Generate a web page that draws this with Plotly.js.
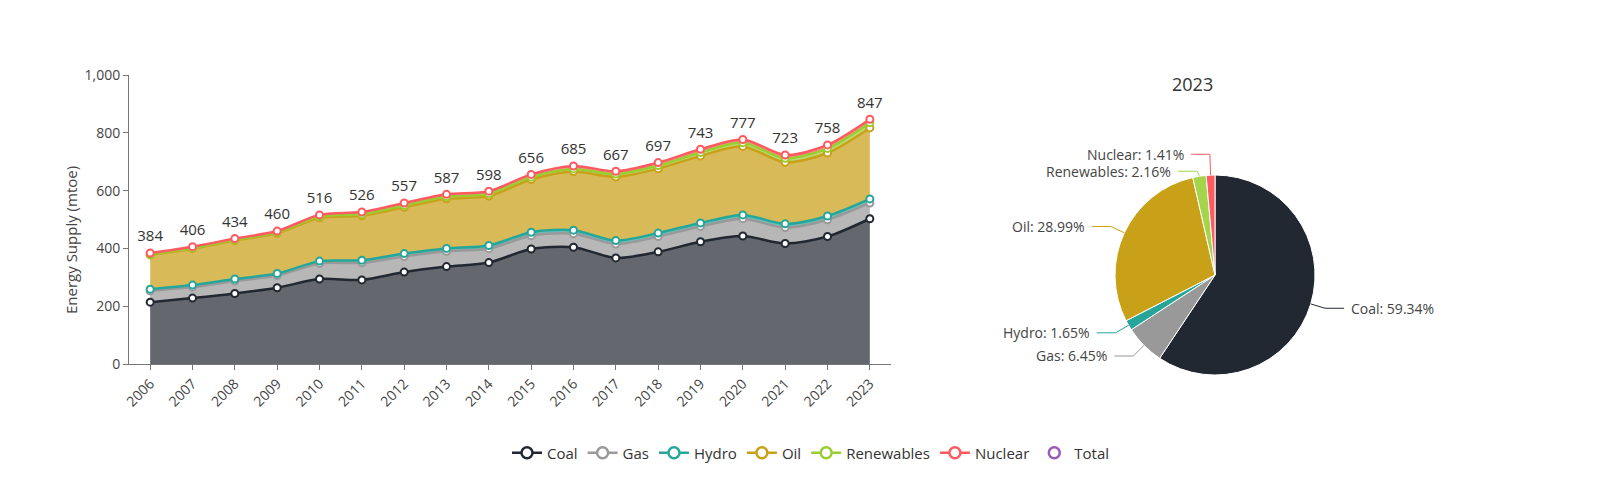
<!DOCTYPE html>
<html>
<head>
<meta charset="utf-8">
<script src="https://cdn.plot.ly/plotly-3.0.1.min.js"></script>
<style>html,body{margin:0;padding:0;background:#fff;} #chart{width:1620px;height:500px;}</style>
</head>
<body>
<div id="chart"></div>
<script>
const years = ['2006','2007','2008','2009','2010','2011','2012','2013','2014','2015','2016','2017','2018','2019','2020','2021','2022','2023'];
const coal = [214,228,244,264,294,291,318,337,351,398,404,367,388,423,443,417,441,502.6];
const gas = [39,38,43,42,54,59,54,53,48,46,47,48,53,53,60,55,58,54.6];
const hydro = [6,7,7,7,8,9,10,10,11,12,12,12,12,12,13,13,13,14];
const oil = [118.5,126,133,139,150,154,160.5,171.5,171,182.5,203,220.2,223,232,237,213,218,245.6];
const renewables = [2,2.5,3,3.5,4,5,6,7,8,8,9,10,11,12,13,14,16,18.3];
const nuclear = [4.5,4.5,4,4.5,6,8,8.5,8.5,9,9.5,10,9.8,10,11,11,11,12,11.9];
const total = [384,406,434,460,516,526,557,587,598,656,685,667,697,743,777,723,758,847];
const pieYear = '2023';
const pieLabels = ['Coal','Gas','Hydro','Oil','Renewables','Nuclear'];
const pieShares = [59.34,6.45,1.65,28.99,2.16,1.41];

const FONT = 'Open Sans, sans-serif';
const W = 1620, H = 500;
const series = [
  {name:'Coal', y:coal, color:'#222831', fill:'rgba(34,40,49,0.7)'},
  {name:'Gas', y:gas, color:'#999999', fill:'rgba(153,153,153,0.7)'},
  {name:'Hydro', y:hydro, color:'#26a69a', fill:'rgba(38,166,154,0.7)'},
  {name:'Oil', y:oil, color:'#c9a118', fill:'rgba(201,161,24,0.72)'},
  {name:'Renewables', y:renewables, color:'#9acd32', fill:'rgba(154,205,50,0.7)'},
  {name:'Nuclear', y:nuclear, color:'#ff5a5f', fill:'rgba(255,90,95,0.7)'}
];
const pieColors = ['#222831','#999999','#26a69a','#c9a118','#a3d44c','#ff5a5f'];

const traces = [];
series.forEach((s, i) => {
  traces.push({
    type:'scatter', mode:'lines+markers', name:s.name, x:years, y:s.y,
    stackgroup:'one', fillcolor:s.fill, legendgroup:s.name, showlegend:false,
    line:{color:s.color, width:2.5, shape:'spline', smoothing:0.8},
    marker:{symbol:'circle', size:7, color:'#ffffff', line:{color:s.color, width:2}},
    cliponaxis:false
  });
});
// total labels (transparent markers give the text its offset)
traces.push({
  type:'scatter', mode:'markers+text', name:'Total', x:years, y:total,
  text: total.map(v => String(v)), textposition:'top center',
  textfont:{family:FONT, size:15, color:'#333'},
  marker:{size:11, color:'rgba(0,0,0,0)'},
  legendgroup:'Total', showlegend:false, hoverinfo:'skip', cliponaxis:false
});
// legend entries (line + hollow marker, no fill swatch)
series.forEach((s, i) => {
  traces.push({
    type:'scatter', mode:'lines+markers', name:s.name, x:[null], y:[null],
    legendgroup:s.name, legendrank:i + 1,
    line:{color:s.color, width:2.5},
    marker:{symbol:'circle', size:11, color:'#ffffff', line:{color:s.color, width:2.5}}
  });
});
traces.push({
  type:'scatter', mode:'markers', name:'Total', x:[null], y:[null],
  legendgroup:'Total', legendrank:100,
  marker:{symbol:'circle', size:11, color:'#ffffff', line:{color:'#9b59b6', width:2.5}}
});

// pie geometry (pixels)
const pcx = 1215, pcy = 275, pr = 100;
traces.push({
  type:'pie', labels:pieLabels, values:pieShares, sort:false, direction:'clockwise', rotation:0,
  marker:{colors:pieColors, line:{color:'#ffffff', width:1}},
  textinfo:'none',
  domain:{x:[(pcx-pr)/W, (pcx+pr)/W], y:[(H-pcy-pr)/H, (H-pcy+pr)/H]},
  showlegend:false, hoverinfo:'label+percent'
});

// pie labels with leader lines
const sum = pieShares.reduce((a,b)=>a+b,0);
let cum = 0;
const lab = pieShares.map((v, i) => {
  const mid = (cum + v/2) / sum * 2*Math.PI; cum += v;
  const dx = Math.sin(mid), dy = -Math.cos(mid);
  return {i, dx, dy, ex:pcx+pr*dx, ey:pcy+pr*dy, bx:pcx+(pr+15)*dx, by:pcy+(pr+15)*dy, right:dx>=0};
});
[true,false].forEach(side => {
  const grp = lab.filter(l => l.right===side).sort((a,b)=>a.by-b.by);
  for (let k=1;k<grp.length;k++){
    const gap = grp[k].by - grp[k-1].by;
    if (gap < 17){ const d=(17-gap)/2; grp[k-1].by -= d - 2; grp[k].by += d + 2; }
  }
});
const shapes = [{type:'line', xref:'x', yref:'paper', x0:years[years.length-1], x1:years[years.length-1],
    y0:136/H, y1:425/H, line:{color:'#aaaaaa', width:1, dash:'dash'}}];
const annotations = [
  {text:pieYear, xref:'paper', yref:'paper', x:pcx/W, y:(H-84)/H, yanchor:'middle',
    showarrow:false, font:{family:FONT, size:18, color:'#333'}},
  {text:'Energy Supply (mtoe)', xref:'paper', yref:'paper', x:71/W, y:(H-240)/H, textangle:-90,
    xanchor:'center', yanchor:'middle', showarrow:false, font:{family:FONT, size:15, color:'#444'}}
];
lab.forEach(l => {
  const sgn = l.right ? 1 : -1;
  const hx = l.bx + sgn*19;
  const px = (x)=>x/W, py=(y)=>(H-y)/H;
  shapes.push({type:'path', xref:'paper', yref:'paper',
    path:`M ${px(l.ex)} ${py(l.ey)} L ${px(l.bx)} ${py(l.by)} L ${px(hx)} ${py(l.by)}`,
    line:{color:pieColors[l.i], width:1}});
  annotations.push({text:`${pieLabels[l.i]}: ${pieShares[l.i].toFixed(2)}%`, xref:'paper', yref:'paper',
    x:px(hx + sgn*5), y:py(l.by), xanchor:l.right?'left':'right', yanchor:'middle', showarrow:false,
    font:{family:FONT, size:14, color:'#444'}});
});

const layout = {
  width:W, height:H,
  margin:{l:0, r:0, t:0, b:0},
  paper_bgcolor:'#ffffff', plot_bgcolor:'#ffffff',
  font:{family:FONT, color:'#444', size:14},
  xaxis:{
    domain:[129/W, 891/W], type:'category', range:[-0.5, 17.5],
    tickangle:-45, showgrid:false, showline:true, linecolor:'#777', linewidth:1,
    ticks:'outside', ticklen:5, tickcolor:'#777', tickfont:{family:FONT, size:14, color:'#444'}
  },
  yaxis:{
    domain:[136/H, 425/H], range:[0, 1000], tickformat:',d', dtick:200,
    showgrid:false, showline:true, linecolor:'#777', linewidth:1, zeroline:false,
    ticks:'outside', ticklen:5, tickcolor:'#777', tickfont:{family:FONT, size:14, color:'#444'}
  },
  shapes, annotations,
  legend:{orientation:'h', x:811/W, xanchor:'center', y:47/H, yanchor:'middle',
    font:{family:FONT, size:15, color:'#333'}, itemwidth:30, traceorder:'normal'},
  showlegend:true
};
Plotly.newPlot('chart', traces, layout, {displayModeBar:false, responsive:false});
</script>
</body>
</html>
